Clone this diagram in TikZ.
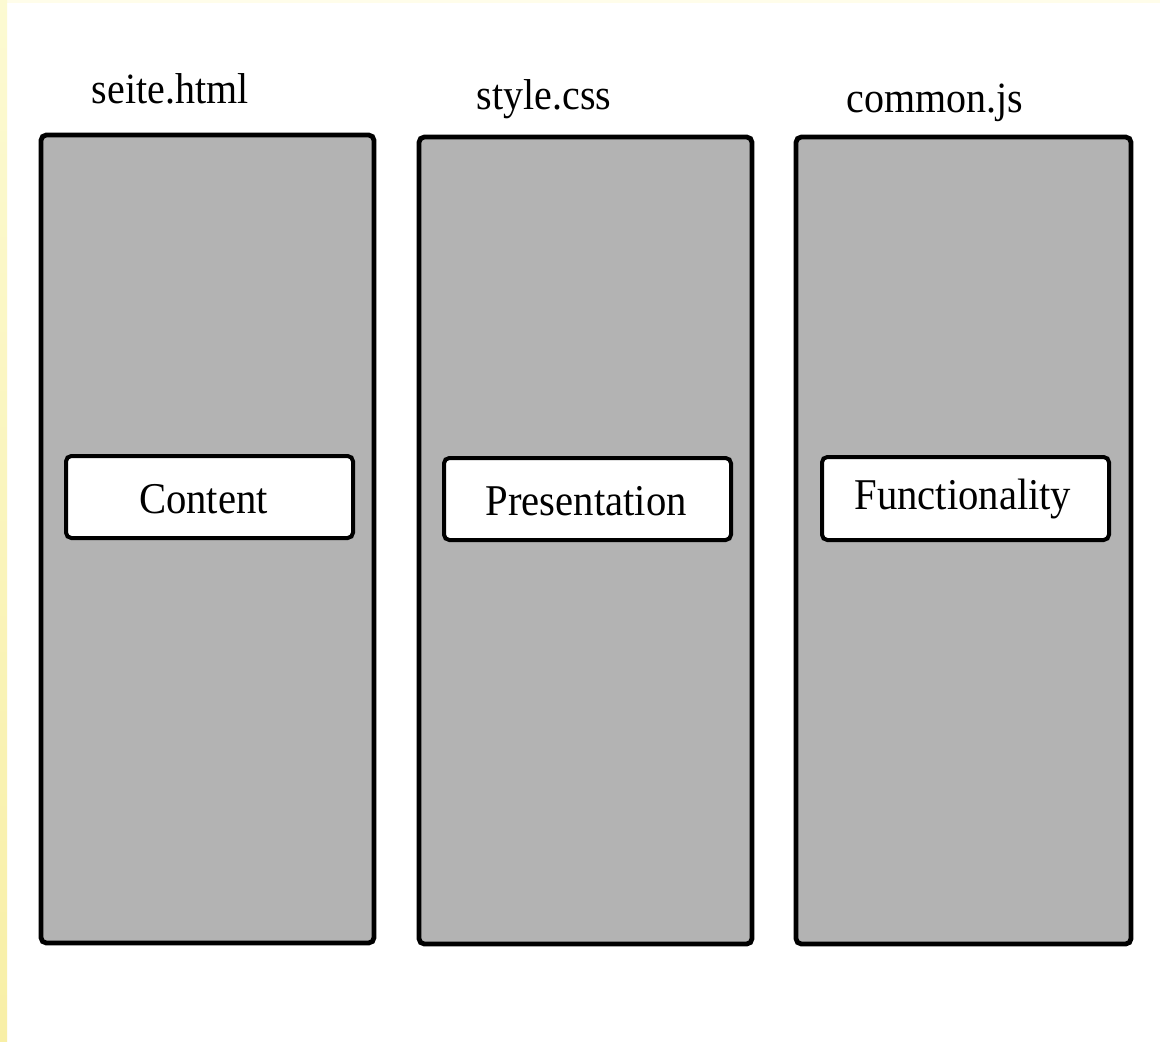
\documentclass[tikz,border=0pt]{standalone}
\usepackage{fontspec}
\setmainfont{Liberation Serif}
\begin{document}
\begin{tikzpicture}[x=0.75pt,y=-0.75pt,
  outerbox/.style={draw=black, fill=boxgray, line width=3.6pt, rounded corners=4pt, inner sep=0pt},
  innerbox/.style={draw=black, fill=white, line width=3pt, rounded corners=4pt, inner sep=0pt,
                   minimum width=287*0.75pt, minimum height=82*0.75pt},
  filelabel/.style={anchor=base, inner sep=0pt, font=\fontsize{30}{36}\selectfont},
  boxtext/.style={inner sep=0pt, font=\fontsize{30.5}{36}\selectfont}]
\definecolor{boxgray}{HTML}{B3B3B3}
\definecolor{stripA}{HTML}{FCFAD2}
\definecolor{stripB}{HTML}{F8EFA6}
\definecolor{stripTop}{HTML}{FFFDEA}
\useasboundingbox (0,0) rectangle (1160,1042);
\fill[white] (0,0) rectangle (1160,1042);
\fill[stripTop] (0,0) rectangle (1160,3);
\shade[top color=stripA, bottom color=stripB] (0,0) rectangle (7,1042);
% outer columns
\node[outerbox, minimum width=333*0.75pt, minimum height=808*0.75pt] (b1) at (207.5,539) {};
\node[outerbox, minimum width=333*0.75pt, minimum height=807*0.75pt] (b2) at (585.5,540.5) {};
\node[outerbox, minimum width=335*0.75pt, minimum height=807*0.75pt] (b3) at (963.5,540.5) {};
% inner boxes
\node[innerbox] (c1) at (209.5,497) {};
\node[innerbox] (c2) at (587.5,499) {};
\node[innerbox, minimum height=83*0.75pt] (c3) at (965.5,498.5) {};
\node[boxtext] (t1) at ([xshift=-4.5pt,yshift=-1.5pt]c1.center) {\scalebox{1}[1.08]{Content}};
\node[boxtext] (t2) at ([xshift=-1pt,yshift=-1.5pt]c2.center) {\scalebox{1}[1.08]{Presentation}};
\node[boxtext] (t3) at ([xshift=-2pt,yshift=-0.5pt]c3.center) {\scalebox{1}[1.08]{Functionality}};
% file labels
\node[filelabel] (l1) at (170,103) {\scalebox{1}[1.08]{seite.html}};
\node[filelabel] (l2) at (544,109) {\scalebox{1}[1.08]{style.css}};
\node[filelabel] (l3) at (935,112) {\scalebox{1}[1.08]{common.js}};
\end{tikzpicture}
\end{document}
